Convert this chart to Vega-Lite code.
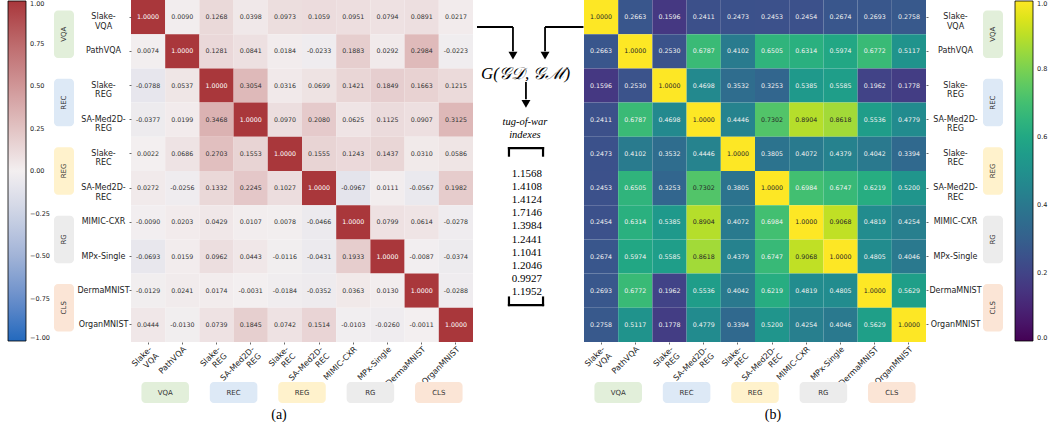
{
"$schema": "https://vega.github.io/schema/vega-lite/v6.json",
"background": "white",
"padding": {"left": 8, "top": 0, "right": 0, "bottom": 0},
"datasets": {
"cells": [
{"r":"Slake-VQA","c":"Slake-VQA","a":1,"b":1},
{"r":"Slake-VQA","c":"PathVQA","a":0.0090,"b":0.2663},
{"r":"Slake-VQA","c":"Slake-REG","a":0.1268,"b":0.1596},
{"r":"Slake-VQA","c":"SA-Med2D-REG","a":0.0398,"b":0.2411},
{"r":"Slake-VQA","c":"Slake-REC","a":0.0973,"b":0.2473},
{"r":"Slake-VQA","c":"SA-Med2D-REC","a":0.1059,"b":0.2453},
{"r":"Slake-VQA","c":"MIMIC-CXR","a":0.0951,"b":0.2454},
{"r":"Slake-VQA","c":"MPx-Single","a":0.0794,"b":0.2674},
{"r":"Slake-VQA","c":"DermaMNIST","a":0.0891,"b":0.2693},
{"r":"Slake-VQA","c":"OrganMNIST","a":0.0217,"b":0.2758},
{"r":"PathVQA","c":"Slake-VQA","a":0.0074,"b":0.2663},
{"r":"PathVQA","c":"PathVQA","a":1,"b":1},
{"r":"PathVQA","c":"Slake-REG","a":0.1281,"b":0.2530},
{"r":"PathVQA","c":"SA-Med2D-REG","a":0.0841,"b":0.6787},
{"r":"PathVQA","c":"Slake-REC","a":0.0184,"b":0.4102},
{"r":"PathVQA","c":"SA-Med2D-REC","a":-0.0233,"b":0.6505},
{"r":"PathVQA","c":"MIMIC-CXR","a":0.1883,"b":0.6314},
{"r":"PathVQA","c":"MPx-Single","a":0.0292,"b":0.5974},
{"r":"PathVQA","c":"DermaMNIST","a":0.2984,"b":0.6772},
{"r":"PathVQA","c":"OrganMNIST","a":-0.0223,"b":0.5117},
{"r":"Slake-REG","c":"Slake-VQA","a":-0.0788,"b":0.1596},
{"r":"Slake-REG","c":"PathVQA","a":0.0537,"b":0.2530},
{"r":"Slake-REG","c":"Slake-REG","a":1,"b":1},
{"r":"Slake-REG","c":"SA-Med2D-REG","a":0.3054,"b":0.4698},
{"r":"Slake-REG","c":"Slake-REC","a":0.0316,"b":0.3532},
{"r":"Slake-REG","c":"SA-Med2D-REC","a":0.0699,"b":0.3253},
{"r":"Slake-REG","c":"MIMIC-CXR","a":0.1421,"b":0.5385},
{"r":"Slake-REG","c":"MPx-Single","a":0.1849,"b":0.5585},
{"r":"Slake-REG","c":"DermaMNIST","a":0.1663,"b":0.1962},
{"r":"Slake-REG","c":"OrganMNIST","a":0.1215,"b":0.1778},
{"r":"SA-Med2D-REG","c":"Slake-VQA","a":-0.0377,"b":0.2411},
{"r":"SA-Med2D-REG","c":"PathVQA","a":0.0199,"b":0.6787},
{"r":"SA-Med2D-REG","c":"Slake-REG","a":0.3468,"b":0.4698},
{"r":"SA-Med2D-REG","c":"SA-Med2D-REG","a":1,"b":1},
{"r":"SA-Med2D-REG","c":"Slake-REC","a":0.0970,"b":0.4446},
{"r":"SA-Med2D-REG","c":"SA-Med2D-REC","a":0.2080,"b":0.7302},
{"r":"SA-Med2D-REG","c":"MIMIC-CXR","a":0.0625,"b":0.8904},
{"r":"SA-Med2D-REG","c":"MPx-Single","a":0.1125,"b":0.8618},
{"r":"SA-Med2D-REG","c":"DermaMNIST","a":0.0907,"b":0.5536},
{"r":"SA-Med2D-REG","c":"OrganMNIST","a":0.3125,"b":0.4779},
{"r":"Slake-REC","c":"Slake-VQA","a":0.0022,"b":0.2473},
{"r":"Slake-REC","c":"PathVQA","a":0.0686,"b":0.4102},
{"r":"Slake-REC","c":"Slake-REG","a":0.2703,"b":0.3532},
{"r":"Slake-REC","c":"SA-Med2D-REG","a":0.1553,"b":0.4446},
{"r":"Slake-REC","c":"Slake-REC","a":1,"b":1},
{"r":"Slake-REC","c":"SA-Med2D-REC","a":0.1555,"b":0.3805},
{"r":"Slake-REC","c":"MIMIC-CXR","a":0.1243,"b":0.4072},
{"r":"Slake-REC","c":"MPx-Single","a":0.1437,"b":0.4379},
{"r":"Slake-REC","c":"DermaMNIST","a":0.0310,"b":0.4042},
{"r":"Slake-REC","c":"OrganMNIST","a":0.0586,"b":0.3394},
{"r":"SA-Med2D-REC","c":"Slake-VQA","a":0.0272,"b":0.2453},
{"r":"SA-Med2D-REC","c":"PathVQA","a":-0.0256,"b":0.6505},
{"r":"SA-Med2D-REC","c":"Slake-REG","a":0.1332,"b":0.3253},
{"r":"SA-Med2D-REC","c":"SA-Med2D-REG","a":0.2245,"b":0.7302},
{"r":"SA-Med2D-REC","c":"Slake-REC","a":0.1027,"b":0.3805},
{"r":"SA-Med2D-REC","c":"SA-Med2D-REC","a":1,"b":1},
{"r":"SA-Med2D-REC","c":"MIMIC-CXR","a":-0.0967,"b":0.6984},
{"r":"SA-Med2D-REC","c":"MPx-Single","a":0.0111,"b":0.6747},
{"r":"SA-Med2D-REC","c":"DermaMNIST","a":-0.0567,"b":0.6219},
{"r":"SA-Med2D-REC","c":"OrganMNIST","a":0.1982,"b":0.5200},
{"r":"MIMIC-CXR","c":"Slake-VQA","a":-0.0090,"b":0.2454},
{"r":"MIMIC-CXR","c":"PathVQA","a":0.0203,"b":0.6314},
{"r":"MIMIC-CXR","c":"Slake-REG","a":0.0429,"b":0.5385},
{"r":"MIMIC-CXR","c":"SA-Med2D-REG","a":0.0107,"b":0.8904},
{"r":"MIMIC-CXR","c":"Slake-REC","a":0.0078,"b":0.4072},
{"r":"MIMIC-CXR","c":"SA-Med2D-REC","a":-0.0466,"b":0.6984},
{"r":"MIMIC-CXR","c":"MIMIC-CXR","a":1,"b":1},
{"r":"MIMIC-CXR","c":"MPx-Single","a":0.0799,"b":0.9068},
{"r":"MIMIC-CXR","c":"DermaMNIST","a":0.0614,"b":0.4819},
{"r":"MIMIC-CXR","c":"OrganMNIST","a":-0.0278,"b":0.4254},
{"r":"MPx-Single","c":"Slake-VQA","a":-0.0693,"b":0.2674},
{"r":"MPx-Single","c":"PathVQA","a":0.0159,"b":0.5974},
{"r":"MPx-Single","c":"Slake-REG","a":0.0962,"b":0.5585},
{"r":"MPx-Single","c":"SA-Med2D-REG","a":0.0443,"b":0.8618},
{"r":"MPx-Single","c":"Slake-REC","a":-0.0116,"b":0.4379},
{"r":"MPx-Single","c":"SA-Med2D-REC","a":-0.0431,"b":0.6747},
{"r":"MPx-Single","c":"MIMIC-CXR","a":0.1933,"b":0.9068},
{"r":"MPx-Single","c":"MPx-Single","a":1,"b":1},
{"r":"MPx-Single","c":"DermaMNIST","a":-0.0087,"b":0.4805},
{"r":"MPx-Single","c":"OrganMNIST","a":-0.0374,"b":0.4046},
{"r":"DermaMNIST","c":"Slake-VQA","a":-0.0129,"b":0.2693},
{"r":"DermaMNIST","c":"PathVQA","a":0.0241,"b":0.6772},
{"r":"DermaMNIST","c":"Slake-REG","a":0.0174,"b":0.1962},
{"r":"DermaMNIST","c":"SA-Med2D-REG","a":-0.0031,"b":0.5536},
{"r":"DermaMNIST","c":"Slake-REC","a":-0.0184,"b":0.4042},
{"r":"DermaMNIST","c":"SA-Med2D-REC","a":-0.0352,"b":0.6219},
{"r":"DermaMNIST","c":"MIMIC-CXR","a":0.0363,"b":0.4819},
{"r":"DermaMNIST","c":"MPx-Single","a":0.0130,"b":0.4805},
{"r":"DermaMNIST","c":"DermaMNIST","a":1,"b":1},
{"r":"DermaMNIST","c":"OrganMNIST","a":-0.0288,"b":0.5629},
{"r":"OrganMNIST","c":"Slake-VQA","a":0.0444,"b":0.2758},
{"r":"OrganMNIST","c":"PathVQA","a":-0.0130,"b":0.5117},
{"r":"OrganMNIST","c":"Slake-REG","a":0.0739,"b":0.1778},
{"r":"OrganMNIST","c":"SA-Med2D-REG","a":0.1845,"b":0.4779},
{"r":"OrganMNIST","c":"Slake-REC","a":0.0742,"b":0.3394},
{"r":"OrganMNIST","c":"SA-Med2D-REC","a":0.1514,"b":0.5200},
{"r":"OrganMNIST","c":"MIMIC-CXR","a":-0.0103,"b":0.4254},
{"r":"OrganMNIST","c":"MPx-Single","a":-0.0260,"b":0.4046},
{"r":"OrganMNIST","c":"DermaMNIST","a":-0.0011,"b":0.5629},
{"r":"OrganMNIST","c":"OrganMNIST","a":1,"b":1}
],
"groups": [{"g":"VQA"},{"g":"REC"},{"g":"REG"},{"g":"RG"},{"g":"CLS"}],
"tow": [
{"t":"Slake-VQA","v":1.1568},
{"t":"PathVQA","v":1.4108},
{"t":"Slake-REG","v":1.4124},
{"t":"SA-Med2D-REG","v":1.7146},
{"t":"Slake-REC","v":1.3984},
{"t":"SA-Med2D-REC","v":1.2441},
{"t":"MIMIC-CXR","v":1.1041},
{"t":"MPx-Single","v":1.2046},
{"t":"DermaMNIST","v":0.9927},
{"t":"OrganMNIST","v":1.1952}
]
},
"columns": 7,
"bounds": "flush",
"spacing": {"row": 40, "column": 0},
"concat": [
{
 "width": 20, "height": 342,
 "data": {"name": "groups"},
 "encoding": {"y": {"field": "g", "type": "nominal", "sort": ["VQA","REC","REG","RG","CLS"], "scale": {"paddingInner": 0.305, "paddingOuter": 0.1525}, "axis": null}},
 "layer": [
  {"mark": {"type": "rect", "cornerRadius": 4}, "encoding": {"fill": {"field": "g", "type": "nominal", "scale": {"domain": ["VQA","REC","REG","RG","CLS"], "range": ["#e2efda","#dde9f6","#fff2cc","#ececec","#fbe5d6"]}, "legend": null}}},
  {"mark": {"type": "text", "angle": 270, "fontSize": 7, "color": "#333333"}, "encoding": {"text": {"field": "g", "type": "nominal"}}}
 ]
},
{"width": 57, "height": 20, "data": {"values": []}, "mark": "point"},
{
 "width": 342, "height": 342,
 "data": {"name": "cells"},
 "encoding": {
  "x": {"field": "c", "type": "nominal", "sort": ["Slake-VQA","PathVQA","Slake-REG","SA-Med2D-REG","Slake-REC","SA-Med2D-REC","MIMIC-CXR","MPx-Single","DermaMNIST","OrganMNIST"], "scale": {"paddingInner": 0, "paddingOuter": 0},
   "axis": {"orient": "bottom", "title": null, "domain": false, "tickSize": 2, "labelAngle": -45, "labelAlign": "right", "labelBaseline": "top", "labelPadding": 1, "labelFontSize": 8, "labelLineHeight": 9.5,
    "labelExpr": "indexof(datum.label,'Slake-')==0||indexof(datum.label,'SA-Med2D-')==0?[substring(datum.label,0,lastindexof(datum.label,'-')+1),substring(datum.label,lastindexof(datum.label,'-')+1)]:datum.label"}},
  "y": {"field": "r", "type": "nominal", "sort": ["Slake-VQA","PathVQA","Slake-REG","SA-Med2D-REG","Slake-REC","SA-Med2D-REC","MIMIC-CXR","MPx-Single","DermaMNIST","OrganMNIST"], "scale": {"paddingInner": 0, "paddingOuter": 0},
   "axis": {"orient": "left", "title": null, "domain": false, "tickSize": 2, "labelAlign": "center", "labelPadding": 26, "labelFontSize": 8, "labelLineHeight": 9.5,
    "labelExpr": "indexof(datum.label,'Slake-')==0||indexof(datum.label,'SA-Med2D-')==0?[substring(datum.label,0,lastindexof(datum.label,'-')+1),substring(datum.label,lastindexof(datum.label,'-')+1)]:datum.label"}}
 },
 "layer": [
  {"mark": {"type": "rect"}, "encoding": {"color": {"field": "a", "type": "quantitative",
    "scale": {"domain": [-1,-0.75,-0.5,-0.25,0,0.25,0.5,0.75,1], "range": ["#2369bd","#6a8fcb","#a1b3d7","#cdd3e5","#f3eff0","#e2c3c3","#d09697","#bd6a6c","#a9373b"], "interpolate": "rgb"},
    "legend": {"orient": "none", "legendX": -123, "legendY": 1, "direction": "vertical", "gradientLength": 340, "gradientThickness": 18, "values": [-1,-0.75,-0.5,-0.25,0,0.25,0.5,0.75,1], "format": ".2f", "labelFontSize": 6.5, "labelOffset": 4, "title": null, "gradientStrokeColor": "#000000", "gradientStrokeWidth": 0.8, "labelExpr": "replace(datum.label,'-','−')"}}}},
  {"mark": {"type": "text", "fontSize": 6.3}, "encoding": {"text": {"field": "a", "type": "quantitative", "format": ".4f"}, "color": {"condition": {"test": "datum.a > 0.9", "value": "#ffffff"}, "value": "#333333"}}}
 ]
},
{
 "width": 111, "height": 342,
 "data": {"values": [{}]},
 "resolve": {"scale": {"y": "independent"}},
 "layer": [
  {"mark": {"type": "rule", "strokeWidth": 1.8, "color": "#000000"}, "encoding": {"x": {"datum": 0.036, "type": "quantitative", "scale": {"domain": [0,1], "nice": false, "zero": false}, "axis": null}, "x2": {"datum": 0.36}, "y": {"datum": 0.079, "type": "quantitative", "scale": {"domain": [0,1], "nice": false, "zero": false, "reverse": true}, "axis": null}}},
  {"mark": {"type": "rule", "strokeWidth": 1.8, "color": "#000000"}, "encoding": {"x": {"datum": 0.36, "type": "quantitative", "scale": {"domain": [0,1], "nice": false, "zero": false}, "axis": null}, "y": {"datum": 0.079, "type": "quantitative", "scale": {"domain": [0,1], "nice": false, "zero": false, "reverse": true}, "axis": null}, "y2": {"datum": 0.15}}},
  {"mark": {"type": "rule", "strokeWidth": 1.8, "color": "#000000"}, "encoding": {"x": {"datum": 0.649, "type": "quantitative", "scale": {"domain": [0,1], "nice": false, "zero": false}, "axis": null}, "x2": {"datum": 0.995}, "y": {"datum": 0.079, "type": "quantitative", "scale": {"domain": [0,1], "nice": false, "zero": false, "reverse": true}, "axis": null}}},
  {"mark": {"type": "rule", "strokeWidth": 1.8, "color": "#000000"}, "encoding": {"x": {"datum": 0.649, "type": "quantitative", "scale": {"domain": [0,1], "nice": false, "zero": false}, "axis": null}, "y": {"datum": 0.079, "type": "quantitative", "scale": {"domain": [0,1], "nice": false, "zero": false, "reverse": true}, "axis": null}, "y2": {"datum": 0.15}}},
  {"mark": {"type": "point", "shape": "triangle-down", "filled": true, "size": 80, "color": "#000000", "opacity": 1}, "encoding": {"x": {"datum": 0.36, "type": "quantitative", "scale": {"domain": [0,1], "nice": false, "zero": false}, "axis": null}, "y": {"datum": 0.163, "type": "quantitative", "scale": {"domain": [0,1], "nice": false, "zero": false, "reverse": true}, "axis": null}}},
  {"mark": {"type": "point", "shape": "triangle-down", "filled": true, "size": 80, "color": "#000000", "opacity": 1}, "encoding": {"x": {"datum": 0.649, "type": "quantitative", "scale": {"domain": [0,1], "nice": false, "zero": false}, "axis": null}, "y": {"datum": 0.163, "type": "quantitative", "scale": {"domain": [0,1], "nice": false, "zero": false, "reverse": true}, "axis": null}}},
  {"mark": {"type": "text", "font": "Liberation Serif", "fontStyle": "italic", "fontSize": 17, "color": "#000000"}, "encoding": {"x": {"datum": 0.473, "type": "quantitative", "scale": {"domain": [0,1], "nice": false, "zero": false}, "axis": null}, "y": {"datum": 0.216, "type": "quantitative", "scale": {"domain": [0,1], "nice": false, "zero": false, "reverse": true}, "axis": null}, "text": {"value": "G(𝒢𝒟, 𝒢ℳ)"}}},
  {"mark": {"type": "rule", "strokeWidth": 1.8, "color": "#000000"}, "encoding": {"x": {"datum": 0.477, "type": "quantitative", "scale": {"domain": [0,1], "nice": false, "zero": false}, "axis": null}, "y": {"datum": 0.24, "type": "quantitative", "scale": {"domain": [0,1], "nice": false, "zero": false, "reverse": true}, "axis": null}, "y2": {"datum": 0.29}}},
  {"mark": {"type": "point", "shape": "triangle-down", "filled": true, "size": 80, "color": "#000000", "opacity": 1}, "encoding": {"x": {"datum": 0.477, "type": "quantitative", "scale": {"domain": [0,1], "nice": false, "zero": false}, "axis": null}, "y": {"datum": 0.304, "type": "quantitative", "scale": {"domain": [0,1], "nice": false, "zero": false, "reverse": true}, "axis": null}}},
  {"mark": {"type": "text", "font": "Liberation Serif", "fontStyle": "italic", "fontSize": 10.5, "lineHeight": 13, "color": "#000000"}, "encoding": {"x": {"datum": 0.468, "type": "quantitative", "scale": {"domain": [0,1], "nice": false, "zero": false}, "axis": null}, "y": {"datum": 0.357, "type": "quantitative", "scale": {"domain": [0,1], "nice": false, "zero": false, "reverse": true}, "axis": null}, "text": {"value": ["tug-of-war", "indexes"]}}},
  {"mark": {"type": "rule", "strokeWidth": 2.2, "color": "#000000", "strokeCap": "square"}, "encoding": {"x": {"datum": 0.324, "type": "quantitative", "scale": {"domain": [0,1], "nice": false, "zero": false}, "axis": null}, "x2": {"datum": 0.631}, "y": {"datum": 0.433, "type": "quantitative", "scale": {"domain": [0,1], "nice": false, "zero": false, "reverse": true}, "axis": null}}},
  {"mark": {"type": "rule", "strokeWidth": 2.2, "color": "#000000", "strokeCap": "square"}, "encoding": {"x": {"datum": 0.324, "type": "quantitative", "scale": {"domain": [0,1], "nice": false, "zero": false}, "axis": null}, "y": {"datum": 0.433, "type": "quantitative", "scale": {"domain": [0,1], "nice": false, "zero": false, "reverse": true}, "axis": null}, "y2": {"datum": 0.455}}},
  {"mark": {"type": "rule", "strokeWidth": 2.2, "color": "#000000", "strokeCap": "square"}, "encoding": {"x": {"datum": 0.631, "type": "quantitative", "scale": {"domain": [0,1], "nice": false, "zero": false}, "axis": null}, "y": {"datum": 0.433, "type": "quantitative", "scale": {"domain": [0,1], "nice": false, "zero": false, "reverse": true}, "axis": null}, "y2": {"datum": 0.455}}},
  {"mark": {"type": "rule", "strokeWidth": 2.2, "color": "#000000", "strokeCap": "square"}, "encoding": {"x": {"datum": 0.324, "type": "quantitative", "scale": {"domain": [0,1], "nice": false, "zero": false}, "axis": null}, "x2": {"datum": 0.631}, "y": {"datum": 0.892, "type": "quantitative", "scale": {"domain": [0,1], "nice": false, "zero": false, "reverse": true}, "axis": null}}},
  {"mark": {"type": "rule", "strokeWidth": 2.2, "color": "#000000", "strokeCap": "square"}, "encoding": {"x": {"datum": 0.324, "type": "quantitative", "scale": {"domain": [0,1], "nice": false, "zero": false}, "axis": null}, "y": {"datum": 0.87, "type": "quantitative", "scale": {"domain": [0,1], "nice": false, "zero": false, "reverse": true}, "axis": null}, "y2": {"datum": 0.892}}},
  {"mark": {"type": "rule", "strokeWidth": 2.2, "color": "#000000", "strokeCap": "square"}, "encoding": {"x": {"datum": 0.631, "type": "quantitative", "scale": {"domain": [0,1], "nice": false, "zero": false}, "axis": null}, "y": {"datum": 0.87, "type": "quantitative", "scale": {"domain": [0,1], "nice": false, "zero": false, "reverse": true}, "axis": null}, "y2": {"datum": 0.892}}},
  {"data": {"name": "tow"}, "mark": {"type": "text", "font": "Liberation Serif", "fontSize": 11, "color": "#000000"}, "encoding": {"x": {"datum": 0.486, "type": "quantitative", "scale": {"domain": [0,1], "nice": false, "zero": false}, "axis": null}, "y": {"field": "t", "type": "ordinal", "scale": {"type": "point", "domain": ["Slake-VQA","PathVQA","Slake-REG","SA-Med2D-REG","Slake-REC","SA-Med2D-REC","MIMIC-CXR","MPx-Single","DermaMNIST","OrganMNIST"], "range": [174, 292], "padding": 0}, "axis": null}, "text": {"field": "v", "type": "quantitative", "format": ".4f"}}}
 ]
},
{
 "width": 342, "height": 342,
 "data": {"name": "cells"},
 "encoding": {
  "x": {"field": "c", "type": "nominal", "sort": ["Slake-VQA","PathVQA","Slake-REG","SA-Med2D-REG","Slake-REC","SA-Med2D-REC","MIMIC-CXR","MPx-Single","DermaMNIST","OrganMNIST"], "scale": {"paddingInner": 0, "paddingOuter": 0},
   "axis": {"orient": "bottom", "title": null, "domain": false, "tickSize": 2, "labelAngle": -45, "labelAlign": "right", "labelBaseline": "top", "labelPadding": 1, "labelFontSize": 8, "labelLineHeight": 9.5,
    "labelExpr": "indexof(datum.label,'Slake-')==0||indexof(datum.label,'SA-Med2D-')==0?[substring(datum.label,0,lastindexof(datum.label,'-')+1),substring(datum.label,lastindexof(datum.label,'-')+1)]:datum.label"}},
  "y": {"field": "r", "type": "nominal", "sort": ["Slake-VQA","PathVQA","Slake-REG","SA-Med2D-REG","Slake-REC","SA-Med2D-REC","MIMIC-CXR","MPx-Single","DermaMNIST","OrganMNIST"], "scale": {"paddingInner": 0, "paddingOuter": 0},
   "axis": {"orient": "right", "title": null, "domain": false, "tickSize": 2, "labelAlign": "center", "labelPadding": 27, "labelFontSize": 8, "labelLineHeight": 9.5,
    "labelExpr": "indexof(datum.label,'Slake-')==0||indexof(datum.label,'SA-Med2D-')==0?[substring(datum.label,0,lastindexof(datum.label,'-')+1),substring(datum.label,lastindexof(datum.label,'-')+1)]:datum.label"}}
 },
 "layer": [
  {"mark": {"type": "rect"}, "encoding": {"color": {"field": "b", "type": "quantitative",
    "scale": {"scheme": "viridis", "domain": [0, 1]},
    "legend": {"orient": "none", "legendX": 431, "legendY": 1, "direction": "vertical", "gradientLength": 340, "gradientThickness": 18, "values": [0,0.2,0.4,0.6,0.8,1], "format": ".1f", "labelFontSize": 6.5, "labelOffset": 4, "title": null, "gradientStrokeColor": "#000000", "gradientStrokeWidth": 0.8}}}},
  {"mark": {"type": "text", "fontSize": 6.3}, "encoding": {"text": {"field": "b", "type": "quantitative", "format": ".4f"}, "color": {"condition": {"test": "datum.b > 0.71", "value": "#262626"}, "value": "#f2f2f2"}}}
 ]
},
{"width": 57, "height": 20, "data": {"values": []}, "mark": "point"},
{
 "width": 20, "height": 342,
 "data": {"name": "groups"},
 "encoding": {"y": {"field": "g", "type": "nominal", "sort": ["VQA","REC","REG","RG","CLS"], "scale": {"paddingInner": 0.305, "paddingOuter": 0.1525}, "axis": null}},
 "layer": [
  {"mark": {"type": "rect", "cornerRadius": 4}, "encoding": {"fill": {"field": "g", "type": "nominal", "scale": {"domain": ["VQA","REC","REG","RG","CLS"], "range": ["#e2efda","#dde9f6","#fff2cc","#ececec","#fbe5d6"]}, "legend": null}}},
  {"mark": {"type": "text", "angle": 270, "fontSize": 7, "color": "#333333"}, "encoding": {"text": {"field": "g", "type": "nominal"}}}
 ]
},
{"width": 20, "height": 21, "data": {"values": []}, "mark": "point"},
{"width": 57, "height": 21, "data": {"values": []}, "mark": "point"},
{
 "width": 342, "height": 21,
 "data": {"name": "groups"},
 "title": {"text": "(a)", "orient": "bottom", "anchor": "middle", "font": "Liberation Serif", "fontSize": 14, "fontWeight": "normal", "color": "#000000", "offset": 5, "dx": -23},
 "encoding": {"x": {"field": "g", "type": "nominal", "sort": ["VQA","REC","REG","RG","CLS"], "scale": {"paddingInner": 0.305, "paddingOuter": 0.1525}, "axis": null}},
 "layer": [
  {"mark": {"type": "rect", "cornerRadius": 4}, "encoding": {"fill": {"field": "g", "type": "nominal", "scale": {"domain": ["VQA","REC","REG","RG","CLS"], "range": ["#e2efda","#dde9f6","#fff2cc","#ececec","#fbe5d6"]}, "legend": null}}},
  {"mark": {"type": "text", "fontSize": 7, "color": "#333333"}, "encoding": {"text": {"field": "g", "type": "nominal"}}}
 ]
},
{"width": 111, "height": 21, "data": {"values": []}, "mark": "point"},
{
 "width": 342, "height": 21,
 "data": {"name": "groups"},
 "title": {"text": "(b)", "orient": "bottom", "anchor": "middle", "font": "Liberation Serif", "fontSize": 14, "fontWeight": "normal", "color": "#000000", "offset": 5, "dx": 18},
 "encoding": {"x": {"field": "g", "type": "nominal", "sort": ["VQA","REC","REG","RG","CLS"], "scale": {"paddingInner": 0.305, "paddingOuter": 0.1525}, "axis": null}},
 "layer": [
  {"mark": {"type": "rect", "cornerRadius": 4}, "encoding": {"fill": {"field": "g", "type": "nominal", "scale": {"domain": ["VQA","REC","REG","RG","CLS"], "range": ["#e2efda","#dde9f6","#fff2cc","#ececec","#fbe5d6"]}, "legend": null}}},
  {"mark": {"type": "text", "fontSize": 7, "color": "#333333"}, "encoding": {"text": {"field": "g", "type": "nominal"}}}
 ]
}
],
"resolve": {"scale": {"color": "independent"}, "legend": {"color": "independent"}},
"config": {
 "view": {"stroke": null},
 "font": "DejaVu Sans",
 "axis": {"labelFont": "DejaVu Sans", "labelColor": "#222222", "tickColor": "#444444", "tickWidth": 0.8, "grid": false},
 "legend": {"labelFont": "DejaVu Sans", "labelColor": "#222222"},
 "text": {"font": "DejaVu Sans"},
 "locale": {"number": {"decimal": ".", "thousands": ",", "grouping": [3], "currency": ["$", ""], "minus": "-"}}
}
}
